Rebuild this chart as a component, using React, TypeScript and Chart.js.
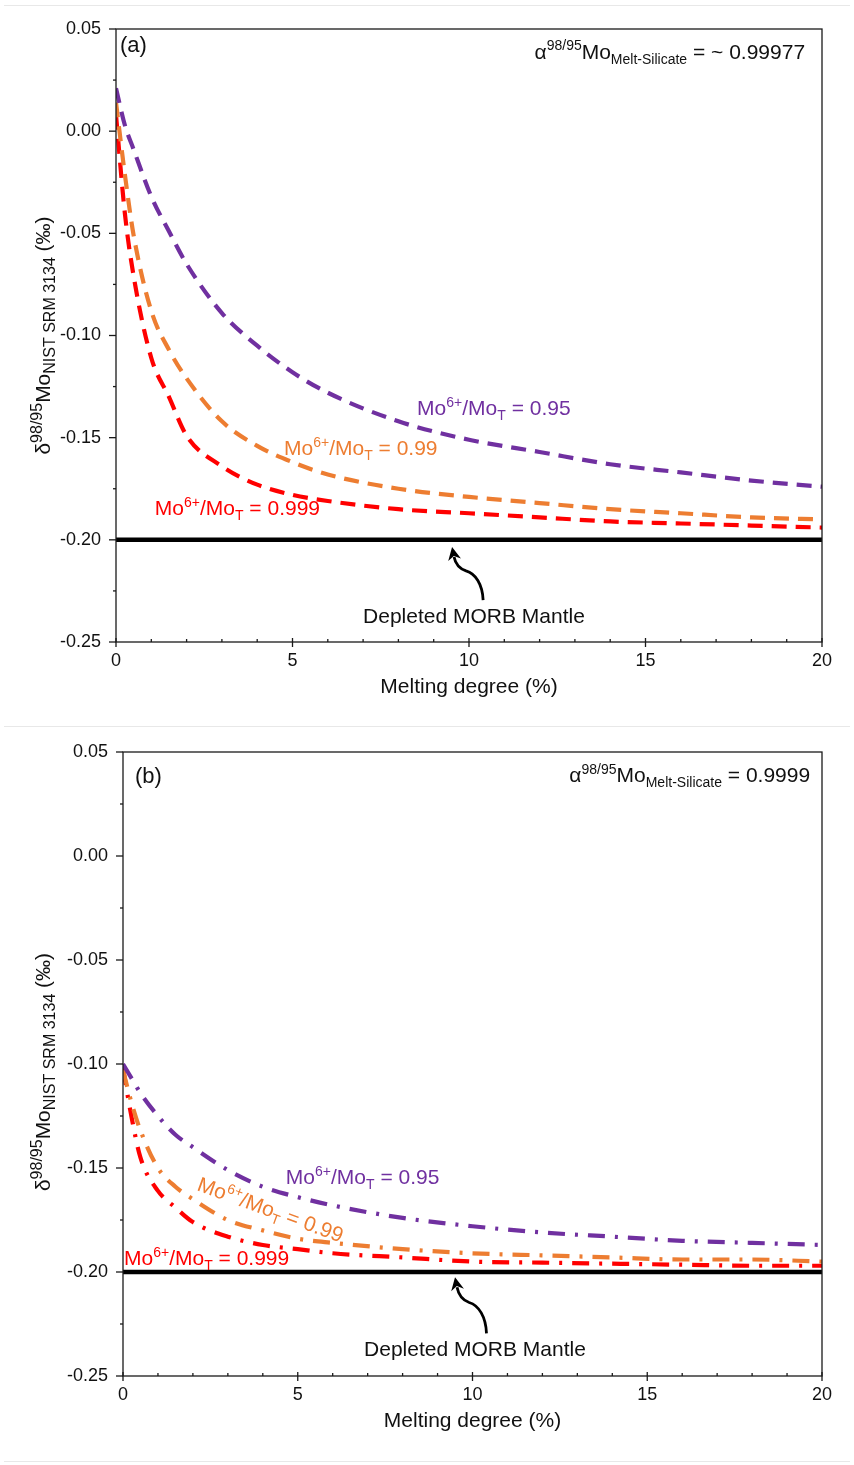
import React, { useEffect, useRef } from "react";
import { Chart, registerables } from "chart.js";
Chart.register(...registerables);

// ---------------- data ----------------
const meltDegree = [0, 0.25, 0.5, 1, 1.5, 2, 3, 4, 5, 6, 8, 10, 12, 14, 16, 18, 20];

// panel (a): alpha ~0.99977
const aMo095 = [0.021, 0.003, -0.009, -0.032, -0.049, -0.065, -0.089, -0.105, -0.118, -0.128, -0.142, -0.151, -0.157, -0.163, -0.167, -0.171, -0.174];
const aMo099 = [0.014, -0.021, -0.051, -0.088, -0.107, -0.121, -0.142, -0.154, -0.162, -0.168, -0.175, -0.179, -0.182, -0.185, -0.187, -0.189, -0.190];
const aMo0999 = [0.008, -0.040, -0.071, -0.111, -0.130, -0.149, -0.164, -0.173, -0.178, -0.181, -0.185, -0.187, -0.189, -0.191, -0.192, -0.193, -0.194];

// panel (b): alpha 0.9999
const bMo095 = [-0.100, -0.107, -0.114, -0.125, -0.134, -0.140, -0.151, -0.159, -0.164, -0.168, -0.174, -0.178, -0.181, -0.183, -0.185, -0.186, -0.187];
const bMo099 = [-0.103, -0.119, -0.132, -0.150, -0.159, -0.165, -0.175, -0.180, -0.184, -0.186, -0.189, -0.191, -0.192, -0.193, -0.194, -0.194, -0.195];
const bMo0999 = [-0.102, -0.126, -0.145, -0.161, -0.169, -0.176, -0.183, -0.187, -0.189, -0.191, -0.193, -0.195, -0.1955, -0.196, -0.1965, -0.197, -0.197];

const mantleX = [0, 20];
const mantleY = [-0.2, -0.2];

const xMajorTicks = [0, 5, 10, 15, 20];
const yMajorTicks = [0.05, 0.0, -0.05, -0.1, -0.15, -0.2, -0.25];
const ratioLabels = ["0.95", "0.99", "0.999"];
const alphaTexts = ["~ 0.99977", "0.9999"];
const panelTags = ["(a)", "(b)"];

const PURPLE = "#7030A0";
const ORANGE = "#ED7D31";
const RED = "#FF0000";
const FONT = "'Liberation Sans', Arial, Helvetica, sans-serif";

type Part = { t: string; k?: "sup" | "sub" };

function drawRich(
  ctx: CanvasRenderingContext2D,
  parts: Part[],
  x: number,
  y: number,
  size: number,
  small: number,
  color: string,
  align: "left" | "right" | "center",
  rot = 0
) {
  const widths = parts.map((p) => {
    ctx.font = `${p.k ? small : size}px ${FONT}`;
    return ctx.measureText(p.t).width;
  });
  const total = widths.reduce((a, b) => a + b, 0);
  ctx.save();
  ctx.translate(x, y);
  if (rot) ctx.rotate(rot);
  let cx = align === "left" ? 0 : align === "right" ? -total : -total / 2;
  ctx.textBaseline = "alphabetic";
  ctx.textAlign = "left";
  ctx.fillStyle = color;
  parts.forEach((p, i) => {
    ctx.font = `${p.k ? small : size}px ${FONT}`;
    const dy = p.k === "sup" ? -size * 0.4 : p.k === "sub" ? size * 0.24 : 0;
    ctx.fillText(p.t, cx, dy);
    cx += widths[i];
  });
  ctx.restore();
}

function ratioParts(v: string): Part[] {
  return [{ t: "Mo" }, { t: "6+", k: "sup" }, { t: "/Mo" }, { t: "T", k: "sub" }, { t: " = " + v }];
}

type LabelPos = { x: number; y: number; rot?: number };
type PanelCfg = {
  height: number;
  padding: { left: number; right: number; top: number; bottom: number };
  series: number[][];
  dash: number[];
  tag: string;
  tagPos: LabelPos;
  alpha: string;
  alphaPos: LabelPos;
  labelPos: LabelPos[];
  mantleTextPos: LabelPos;
  arrowTail: LabelPos;
  arrowTip: LabelPos;
  yTitleShift: number;
};

const panels: PanelCfg[] = [
  {
    height: 720,
    padding: { left: 116, right: 32, top: 23, bottom: 84 },
    series: [aMo095, aMo099, aMo0999],
    dash: [15, 9],
    tag: panelTags[0],
    tagPos: { x: 0.11, y: 0.0385 },
    alpha: alphaTexts[0],
    alphaPos: { x: 19.52, y: 0.0355 },
    labelPos: [
      { x: 8.53, y: -0.139 },
      { x: 4.76, y: -0.1585 },
      { x: 1.1, y: -0.188 },
    ],
    mantleTextPos: { x: 10.14, y: -0.2405 },
    arrowTail: { x: 10.4, y: -0.2295 },
    arrowTip: { x: 9.52, y: -0.2035 },
    yTitleShift: 0,
  },
  {
    height: 734,
    padding: { left: 123, right: 32, top: 25, bottom: 85 },
    series: [bMo095, bMo099, bMo0999],
    dash: [17, 10, 3, 10],
    tag: panelTags[1],
    tagPos: { x: 0.34, y: 0.035 },
    alpha: alphaTexts[1],
    alphaPos: { x: 19.66, y: 0.0355 },
    labelPos: [
      { x: 4.66, y: -0.1577 },
      { x: 2.09, y: -0.1606, rot: (20 * Math.PI) / 180 },
      { x: 0.03, y: -0.1966 },
    ],
    mantleTextPos: { x: 10.07, y: -0.2405 },
    arrowTail: { x: 10.4, y: -0.2295 },
    arrowTip: { x: 9.5, y: -0.2025 },
    yTitleShift: 8,
  },
];

function makeOverlay(cfg: PanelCfg) {
  return {
    id: "overlay",
    afterDraw(chart: any) {
      const ctx: CanvasRenderingContext2D = chart.ctx;
      const xs = chart.scales.x;
      const ys = chart.scales.y;
      const a = chart.chartArea;
      const px = (v: number) => xs.getPixelForValue(v);
      const py = (v: number) => ys.getPixelForValue(v);
      ctx.save();
      ctx.strokeStyle = "#1a1a1a";
      ctx.lineWidth = 1.3;
      ctx.strokeRect(a.left, a.top, a.right - a.left, a.bottom - a.top);

      // y ticks (major + minor)
      for (let i = 0; i <= 12; i++) {
        const v = -0.25 + i * 0.025;
        const y = py(v);
        const major = i % 2 === 0;
        ctx.beginPath();
        ctx.moveTo(a.left - (major ? 7 : 3), y);
        ctx.lineTo(a.left, y);
        ctx.stroke();
      }
      ctx.fillStyle = "#111";
      ctx.font = `18px ${FONT}`;
      ctx.textAlign = "right";
      ctx.textBaseline = "middle";
      yMajorTicks.forEach((v) => {
        const s = Math.abs(v) < 1e-9 ? "0.00" : v.toFixed(2);
        ctx.fillText(s, a.left - 15, py(v));
      });

      // x ticks
      for (let i = 0; i <= 20; i++) {
        const x = px(i);
        const major = i % 5 === 0;
        ctx.beginPath();
        if (major) {
          ctx.moveTo(x, a.bottom - 4);
          ctx.lineTo(x, a.bottom + 5);
        } else {
          ctx.moveTo(x, a.bottom - 3);
          ctx.lineTo(x, a.bottom);
        }
        ctx.stroke();
      }
      ctx.textAlign = "center";
      ctx.textBaseline = "middle";
      xMajorTicks.forEach((v) => ctx.fillText(String(v), px(v), a.bottom + 19));
      ctx.font = `21px ${FONT}`;
      ctx.fillText("Melting degree (%)", (a.left + a.right) / 2, a.bottom + 45);

      // y title
      drawRich(
        ctx,
        [{ t: "δ" }, { t: "98/95", k: "sup" }, { t: "Mo" }, { t: "NIST SRM 3134", k: "sub" }, { t: " (‰)" }],
        50,
        (a.top + a.bottom) / 2 + cfg.yTitleShift,
        21,
        16,
        "#111",
        "center",
        -Math.PI / 2
      );

      // panel tag
      ctx.font = `22px ${FONT}`;
      ctx.textAlign = "left";
      ctx.textBaseline = "alphabetic";
      ctx.fillStyle = "#111";
      ctx.fillText(cfg.tag, px(cfg.tagPos.x), py(cfg.tagPos.y));

      // alpha annotation
      drawRich(
        ctx,
        [{ t: "α" }, { t: "98/95", k: "sup" }, { t: "Mo" }, { t: "Melt-Silicate", k: "sub" }, { t: " = " + cfg.alpha }],
        px(cfg.alphaPos.x),
        py(cfg.alphaPos.y),
        21,
        14,
        "#111",
        "right"
      );

      // curve labels
      const colors = [PURPLE, ORANGE, RED];
      cfg.labelPos.forEach((p, i) => {
        drawRich(ctx, ratioParts(ratioLabels[i]), px(p.x), py(p.y), 21, 14, colors[i], "left", p.rot || 0);
      });

      // mantle label
      ctx.font = `21px ${FONT}`;
      ctx.textAlign = "center";
      ctx.textBaseline = "alphabetic";
      ctx.fillStyle = "#111";
      ctx.fillText("Depleted MORB Mantle", px(cfg.mantleTextPos.x), py(cfg.mantleTextPos.y));

      // curved arrow
      const t0 = { x: px(cfg.arrowTail.x), y: py(cfg.arrowTail.y) };
      const t1 = { x: px(cfg.arrowTip.x), y: py(cfg.arrowTip.y) };
      const dx = t1.x - t0.x;
      const dy = t1.y - t0.y;
      const mid = { x: t0.x + 0.55 * dx, y: t0.y + 0.55 * dy };
      const base = { x: t1.x + 2, y: t1.y + 10 };
      ctx.strokeStyle = "#000";
      ctx.lineWidth = 2.8;
      ctx.beginPath();
      ctx.moveTo(t0.x, t0.y);
      ctx.bezierCurveTo(t0.x + 0.02 * dx, t0.y + 0.3 * dy, t0.x + 0.25 * dx, t0.y + 0.5 * dy, mid.x, mid.y);
      ctx.bezierCurveTo(mid.x + 0.25 * dx, mid.y + 0.05 * dy, base.x + 1, base.y + 5, base.x, base.y);
      ctx.stroke();
      // arrowhead
      const ang = Math.atan2(t1.y - base.y, t1.x - base.x);
      const L = 13;
      const W = 6.5;
      ctx.fillStyle = "#000";
      ctx.beginPath();
      ctx.moveTo(t1.x, t1.y);
      ctx.lineTo(t1.x - L * Math.cos(ang) + W * Math.sin(ang), t1.y - L * Math.sin(ang) - W * Math.cos(ang));
      ctx.lineTo(t1.x - 0.7 * L * Math.cos(ang), t1.y - 0.7 * L * Math.sin(ang));
      ctx.lineTo(t1.x - L * Math.cos(ang) - W * Math.sin(ang), t1.y - L * Math.sin(ang) + W * Math.cos(ang));
      ctx.closePath();
      ctx.fill();
      ctx.restore();
    },
  };
}

function Panel({ cfg, top }: { cfg: PanelCfg; top: number }) {
  const ref = useRef<HTMLCanvasElement | null>(null);
  useEffect(() => {
    if (!ref.current) return;
    const colors = [PURPLE, ORANGE, RED];
    const datasets: any[] = cfg.series.map((s, i) => ({
      label: "Mo6+/MoT = " + ratioLabels[i],
      data: meltDegree.map((x, j) => ({ x, y: s[j] })),
      borderColor: colors[i],
      borderWidth: 4.2,
      borderDash: cfg.dash,
      borderCapStyle: "butt",
      pointRadius: 0,
      cubicInterpolationMode: "monotone",
      fill: false,
    }));
    datasets.unshift({
      label: "Depleted MORB Mantle",
      data: mantleX.map((x, j) => ({ x, y: mantleY[j] })),
      borderColor: "#000",
      borderWidth: 4.5,
      pointRadius: 0,
      fill: false,
    });
    const chart = new Chart(ref.current, {
      type: "line",
      data: { datasets },
      options: {
        responsive: false,
        animation: false,
        devicePixelRatio: 1,
        layout: { padding: cfg.padding },
        plugins: { legend: { display: false }, tooltip: { enabled: false } },
        scales: {
          x: { type: "linear", min: 0, max: 20, display: false },
          y: { type: "linear", min: -0.25, max: 0.05, display: false },
        },
      },
      plugins: [makeOverlay(cfg)],
    } as any);
    return () => chart.destroy();
  }, [cfg]);
  return (
    <canvas
      ref={ref}
      width={854}
      height={cfg.height}
      style={{ position: "absolute", left: 0, top, width: 854, height: cfg.height, display: "block" }}
    />
  );
}

const sepStyle = (top: number): React.CSSProperties => ({
  position: "absolute",
  left: 4,
  top,
  width: 846,
  height: 1,
  background: "#e8e8e8",
});

export default function App() {
  return (
    <div style={{ position: "absolute", left: 0, top: 0, width: 854, height: 1465, background: "#fff", overflow: "hidden" }}>
      <div style={sepStyle(5)} />
      <Panel cfg={panels[0]} top={6} />
      <div style={sepStyle(726)} />
      <Panel cfg={panels[1]} top={727} />
      <div style={sepStyle(1461)} />
    </div>
  );
}
